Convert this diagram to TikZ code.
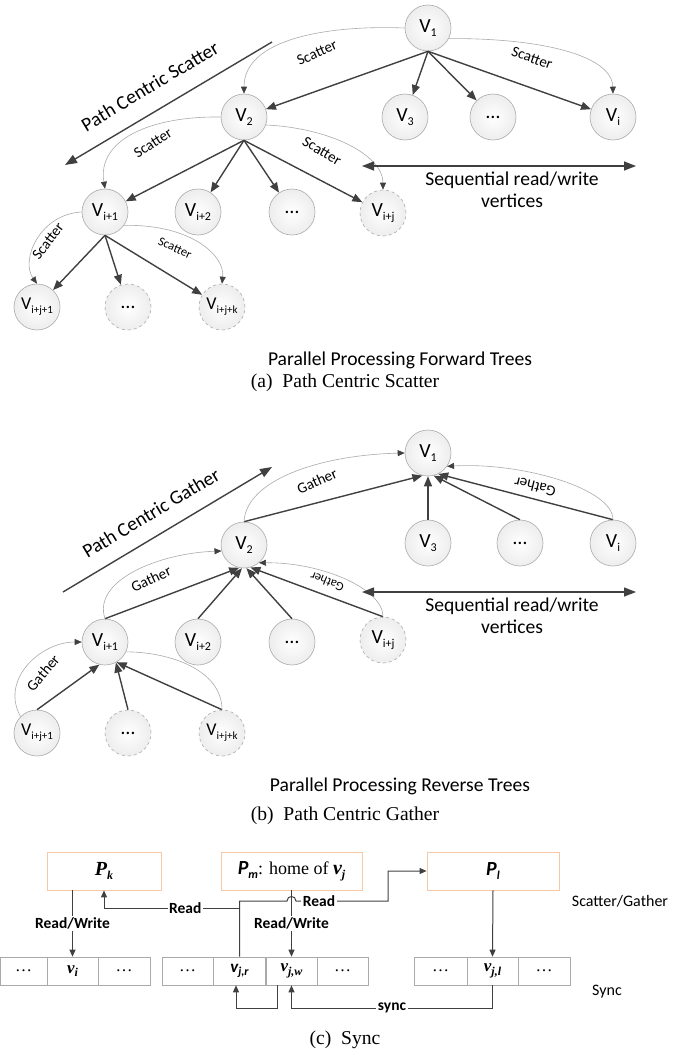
\documentclass[tikz,border=0pt]{standalone}
\usepackage{fontspec}
\setmainfont{Carlito}
\newfontfamily\tms{Liberation Serif}
\usetikzlibrary{arrows.meta}
\definecolor{dk}{RGB}{64,64,64}
\definecolor{cb}{RGB}{170,170,170}
\definecolor{orn}{RGB}{246,200,165}
\newcommand\VV[1]{V\raisebox{-0.45ex}{\fontsize{12}{12}\selectfont #1}}
\newcommand\VW[1]{{\fontsize{18}{18}\selectfont V\raisebox{-0.45ex}{\fontsize{11}{11}\selectfont #1}}}
\newcommand\sbs[1]{\raisebox{-0.45ex}{\fontsize{12}{12}\selectfont #1}}
\begin{document}
\begin{tikzpicture}[x=1pt,y=-1pt,
  vn/.style={circle, draw=cb, line width=0.6pt, inner color=white, outer color=gray!14,
    minimum size=46pt, inner sep=0pt, font=\fontsize{20}{20}\selectfont},
  dn/.style={vn, dashed},
  ta/.style={draw=dk, line width=1.4pt, -{Triangle[length=10pt,width=8pt]}},
  gc/.style={draw=cb, line width=0.6pt, -{Triangle[length=7pt,width=6pt,color=dk]}},
  gcn/.style={draw=cb, line width=0.6pt},
  lb/.style={font=\fontsize{15}{15}\selectfont, inner sep=1pt},
  lbs/.style={font=\fontsize{12.5}{12.5}\selectfont, inner sep=1pt},
  bigtxt/.style={font=\fontsize{19.6}{19.6}\selectfont, inner sep=1pt},
  midtxt/.style={font=\fontsize{19.6}{19.6}\selectfont, inner sep=1pt},
  da/.style={draw=dk, line width=1.4pt, {Triangle[length=12pt,width=9pt]}-{Triangle[length=12pt,width=9pt]}},
  captxt/.style={font=\tms\fontsize{19.6}{19.6}\selectfont, inner sep=1pt},
  pbox/.style={draw=orn, line width=0.8pt, minimum height=38pt, inner sep=0pt, font=\fontsize{20}{20}\selectfont},
  cell/.style={draw=cb, line width=0.6pt, minimum height=28pt, inner sep=0pt, font=\tms\fontsize{17}{17}\selectfont},
  ln/.style={draw=dk, line width=1pt},
  ca/.style={-{Triangle[length=7pt,width=6pt]}},
  rl/.style={fill=white, inner sep=1.5pt, font=\bfseries\fontsize{15.5}{15.5}\selectfont},
  sl/.style={font=\fontsize{16}{16}\selectfont, inner sep=1pt}
]
\useasboundingbox (0,0) rectangle (693,1055);

% ================= (a) =================
\node[vn] (a1) at (428,28) {\VV{1}};
\node[vn] (a3) at (405,117) {\VV{3}};
\node[vn] (ad1) at (493,117) {…};
\node[vn] (ai) at (613,117) {\VV{i}};
\node[vn] (a2) at (244,117) {\VV{2}};
\node[vn] (a4) at (105,212) {\VV{i+1}};
\node[vn] (a5) at (198,212) {\VV{i+2}};
\node[vn] (ad2) at (292,212) {…};
\node[dn] (a6) at (383,213) {\VV{i+j}};
\node[vn] (a7) at (37,307) {\VW{i+j+1}};
\node[dn] (ad3) at (128,307) {…};
\node[dn] (a8) at (222,307) {\VW{i+j+k}};

\draw[ta] (a1.south) -- (a2);
\draw[ta] (a1.south) -- (a3);
\draw[ta] (a1.south) -- (ad1);
\draw[ta] (a1.south) -- (ai);
\draw[ta] (a2.south) -- (a4);
\draw[ta] (a2.south) -- (a5);
\draw[ta] (a2.south) -- (ad2);
\draw[ta] (a2.south) -- (a6);
\draw[ta] (a4.south) -- (a7);
\draw[ta] (a4.south) -- (ad3);
\draw[ta] (a4.south) -- (a8);

\draw[gc] (a1.west) .. controls (330,25) and (244,38) .. (a2.north);
\node[lb, rotate=24] (sa1) at (317,53) {Scatter};
\draw[gc] (a1.-27) .. controls (540,38) and (612,55) .. (ai.north);
\node[lb, rotate=-20] (sa2) at (532,58) {Scatter};
\draw[gc] (a2.west) .. controls (150,116) and (97,140) .. (a4.north);
\node[lb, rotate=33] (sa3) at (153,143) {Scatter};
\draw[gc] (a2.-20) .. controls (330,128) and (383,155) .. (a6.north);
\node[lb, rotate=-31] (sa4) at (322,151) {Scatter};
\draw[gc] (a4.west) .. controls (40,214) and (20,260) .. (a7.north);
\node[lb, rotate=53] (sa5) at (48,241) {Scatter};
\draw[gc] (a4.-35) .. controls (190,224) and (225,255) .. (a8.north);
\node[lbs, rotate=-24] (sa6) at (175,248) {Scatter};

\coordinate (pa1) at (272,42);
\coordinate (pa2) at (65,165);
\draw[draw=dk, line width=1.4pt, -{Triangle[length=12pt,width=9pt]}] (pa1) -- (pa2);
\node[bigtxt, rotate=31] (pal) at (150,86) {Path Centric Scatter};

\coordinate (sq1) at (362,166);
\coordinate (sq2) at (636,166);
\draw[da] (sq1) -- (sq2);
\node[bigtxt] (sqa) at (512,180) {Sequential read/write};
\node[bigtxt] (sqb) at (512,201) {vertices};

\node[midtxt] (pfa) at (400,360) {Parallel Processing Forward Trees};
\node[captxt] (capa) at (345,383) {(a)~~Path Centric Scatter};

% ================= (b) =================
\node[vn] (b1) at (428,453) {\VV{1}};
\node[vn] (b3) at (428,543) {\VV{3}};
\node[vn] (bd1) at (520,543) {…};
\node[vn] (bi) at (613,543) {\VV{i}};
\node[vn] (b2) at (244,545) {\VV{2}};
\node[vn] (b4) at (105,642) {\VV{i+1}};
\node[vn] (b5) at (198,642) {\VV{i+2}};
\node[vn] (bd2) at (292,642) {…};
\node[dn] (b6) at (383,640) {\VV{i+j}};
\node[vn] (b7) at (37,733) {\VW{i+j+1}};
\node[dn] (bd3) at (128,733) {…};
\node[dn] (b8) at (222,733) {\VW{i+j+k}};

\draw[ta] (b2.north) -- (b1.-104);
\draw[ta] (b3.north) -- (b1.south);
\draw[ta] (bd1.north) -- (b1.-76);
\draw[ta] (bi.north) -- (b1.-64);
\draw[ta] (b4.north) -- (b2.-102);
\draw[ta] (b5.north) -- (b2.-95);
\draw[ta] (bd2.north) -- (b2.-84);
\draw[ta] (b6.north) -- (b2.-74);
\draw[ta] (b7.north) -- (b4.-104);
\draw[ta] (bd3.north) -- (b4.-62);
\draw[ta] (b8.north) -- (b4.-60);

\draw[gc] (b2.north) .. controls (246,480) and (320,455) .. (b1.west);
\node[lb, rotate=24] (gb1) at (317,481) {Gather};
\draw[gc] (bi.north) .. controls (613,488) and (520,462) .. (b1.-35);
\node[lb, rotate=166] (gb2) at (535,487) {Gather};
\draw[gc] (b4.north) .. controls (92,580) and (160,553) .. (b2.195);
\node[lb, rotate=25] (gb3) at (151,579) {Gather};
\draw[gc] (b6.north) .. controls (383,588) and (320,562) .. (b2.-50);
\node[lbs, rotate=158] (gb4) at (327,582) {Gather};
\draw[gc] (b7.135) .. controls (0,680) and (40,642) .. (b4.west);
\node[lb, rotate=50] (gb5) at (43,673) {Gather};
\draw[gcn] (b8.north) .. controls (222,670) and (170,652) .. (b4.-25);

\coordinate (pb1) at (63,592);
\coordinate (pb2) at (272,467);
\draw[draw=dk, line width=1.4pt, -{Triangle[length=12pt,width=9pt]}] (pb1) -- (pb2);
\node[bigtxt, rotate=31] (pbl) at (151,513) {Path Centric Gather};

\coordinate (sq3) at (362,592);
\coordinate (sq4) at (636,592);
\draw[da] (sq3) -- (sq4);
\node[bigtxt] (sqc) at (512,606) {Sequential read/write};
\node[bigtxt] (sqd) at (512,627) {vertices};

\node[midtxt] (prb) at (400,786) {Parallel Processing Reverse Trees};
\node[captxt] (capb) at (345,816) {(b)~~Path Centric Gather};

% ================= (c) =================
\node[pbox, minimum width=114pt] (Pk) at (104,871) {\tms\bfseries\itshape P\sbs{k}};
\node[pbox, minimum width=141pt] (Pm) at (291.5,871) {{\bfseries\itshape P\sbs{m}}{\tms\fontsize{18}{18}\selectfont: home of }{\tms\bfseries\itshape v\sbs{j}}};
\node[pbox, minimum width=132pt] (Pl) at (493,871) {\bfseries\itshape P\sbs{l}};

\node[cell, minimum width=47pt] (c1) at (23.5,971) {…};
\node[cell, minimum width=51pt] (c2) at (72.5,971) {\bfseries\itshape v\sbs{i}};
\node[cell, minimum width=52pt] (c3) at (124,971) {…};

\node[cell, minimum width=51pt] (m1) at (187.5,971) {…};
\node[cell, minimum width=52pt] (m2) at (239.5,971) {\fontspec{Carlito}\bfseries\itshape v\sbs{j,r}};
\node[cell, minimum width=51pt] (m3) at (291.5,971) {\bfseries\itshape v\sbs{j,w}};
\node[cell, minimum width=51pt] (m4) at (342.5,971) {…};

\node[cell, minimum width=53pt] (r1) at (440.5,971) {…};
\node[cell, minimum width=51pt] (r2) at (492.5,971) {\bfseries\itshape v\sbs{j,l}};
\node[cell, minimum width=52pt] (r3) at (544,971) {…};

\node[sl] (sgl) at (620,901) {Scatter/Gather};
\node[sl] (syl) at (607,992) {Sync};

\draw[ln,ca] (c2.north |- Pk.south) -- node[rl]{Read/Write} (c2.north);
\draw[ln,ca] (Pm.south) -- node[rl]{Read/Write} (m3.north);
\draw[ln,ca] (Pl.south) -- (r2.north);
\draw[ln,ca] (m2.north) -- (m2.north |- 0,901) -- (287,901) .. controls (287,895) and (296,895) .. (296,901)
   -- node[rl,pos=0.25]{Read} (388,901) -- (388,871) -- (Pl.west);
\draw[ln,ca] (m2.north |- 0,908) -- node[rl,pos=0.4]{Read} (Pk.south |- 0,908) -- (Pk.south);
\draw[ln,ca] ([xshift=-14.5pt]m3.south) -- ([xshift=-14.5pt]m3.south |- 0,1008)
   -- ([xshift=-3.5pt]m2.south |- 0,1008) -- ([xshift=-3.5pt]m2.south);
\draw[ln,ca] (r2.south) -- (r2.south |- 0,1008) -- node[rl]{sync} (m3.south |- 0,1008) -- (m3.south);

\node[captxt] (capc) at (345,1040) {(c)~~Sync};
\end{tikzpicture}
\end{document}
